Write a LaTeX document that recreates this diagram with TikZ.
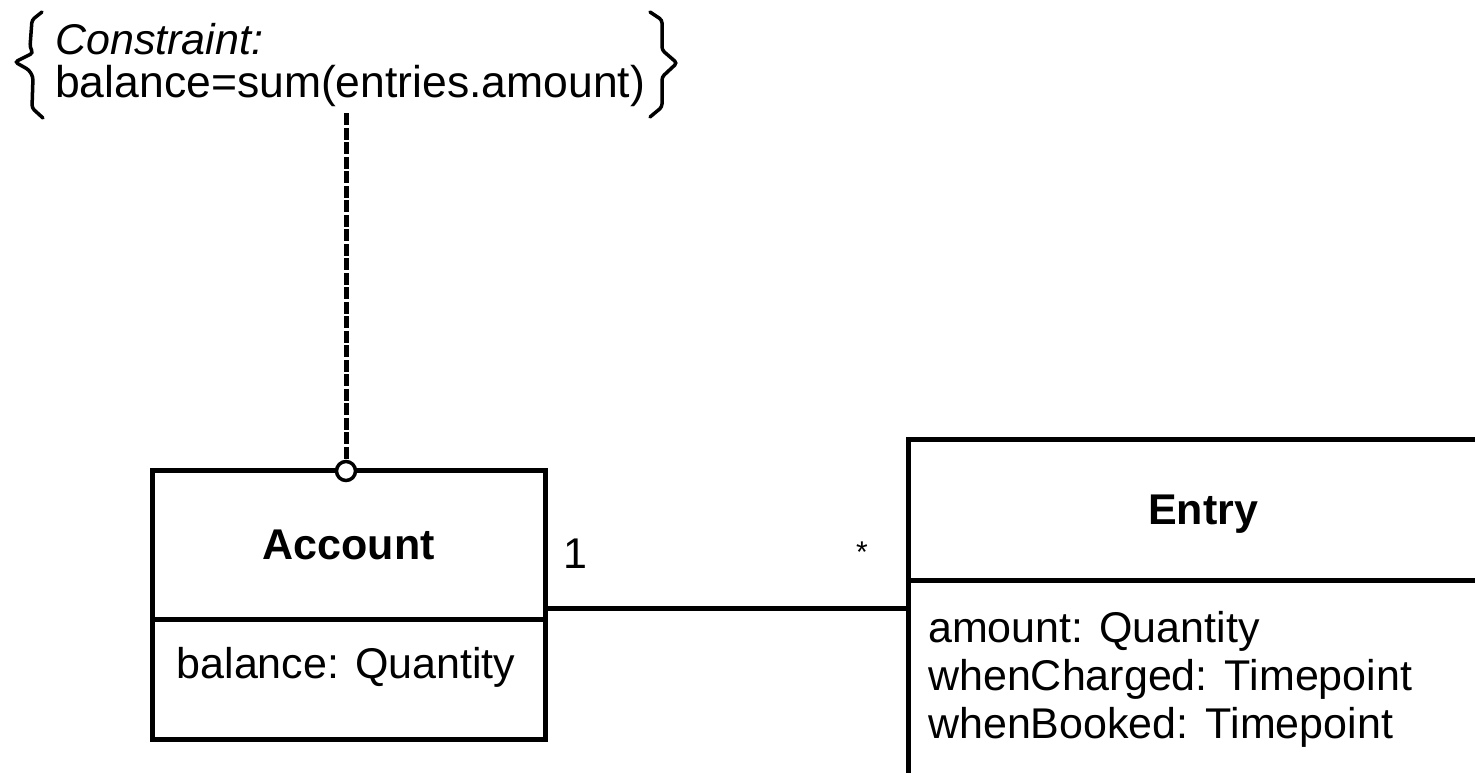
\documentclass[tikz,border=0pt]{standalone}
\usepackage{fontspec}
\setmainfont{Liberation Sans}
\usetikzlibrary{calc}

\begin{document}
\begin{tikzpicture}[x=1pt,y=-1pt,
  classbox/.style={draw, line width=4.5pt, inner sep=0pt, anchor=north west,
    font=\fontsize{43}{49}\selectfont\bfseries, text depth=0pt},
  label/.style={inner sep=0pt, font=\fontsize{43}{49}\selectfont},
  rel/.style={line width=4.5pt},
  tie/.style={line width=5pt, dash pattern=on 12pt off 2.5pt},
  knobstyle/.style={circle, draw, line width=3.5pt, fill=white, inner sep=0pt, minimum size=19pt},
  curly/.style={line width=3.5pt, rounded corners=3pt, line cap=round}
]
\useasboundingbox (0,0) rectangle (1475,773);
\clip (0,0) rectangle (1475,773);

% Account class
\node[classbox, minimum width=393pt, minimum height=149pt] (acctitle) at (150,468) {Account};
\node[classbox, minimum width=393pt, minimum height=120pt] (accattr) at (150,617) {};
\node[label, anchor=base] (accbal) at (346,678) {balance: Quantity};

% Entry class (runs past the right and lower edges)
\node[classbox, minimum width=590pt, minimum height=141pt] (enttitle) at (906,437) {Entry};
\node[classbox, minimum width=590pt, minimum height=260pt] (entattr) at (906,578) {};
\node[label, anchor=base west] (entamt) at (928,642) {amount: Quantity};
\node[label, anchor=base west] (entchg) at (928,690) {whenCharged:\hspace{0.4em}Timepoint};
\node[label, anchor=base west] (entbkd) at (928,738) {whenBooked:\hspace{0.4em}Timepoint};

% association
\draw[rel] (acctitle.south east) ++(0,-13) coordinate (assocL) -- (assocL -| entattr.west);
\node[label, anchor=base] (mulone) at (575,568) {1};
\node[label, anchor=base, font=\fontsize{30}{34}\selectfont] (mulmany) at (862,562) {*};

% constraint note
\node[label, anchor=base west, font=\fontsize{43}{49}\selectfont\itshape] (constrhead) at (55,55) {Constraint:};
\node[label, anchor=base west, font=\fontsize{44.5}{50}\selectfont] (constrbody) at (55,98) {balance=sum(entries.amount)};
\draw[curly] (42,12) -- (32,20) -- (30,47) -- (33,53) -- (15,62) -- (29,70) -- (33,77) -- (32,108) -- (43,118);
\draw[curly] (650,12) -- (662,20) -- (662,50) -- (677,63) -- (662,77) -- (662,107) -- (650,117);

% attachment of the constraint to Account
\node[knobstyle] (knob) at (346,471) {};
\draw[tie] (knob.north |- constrbody.south) ++(0,6) -- (knob.north);
\end{tikzpicture}
\end{document}
